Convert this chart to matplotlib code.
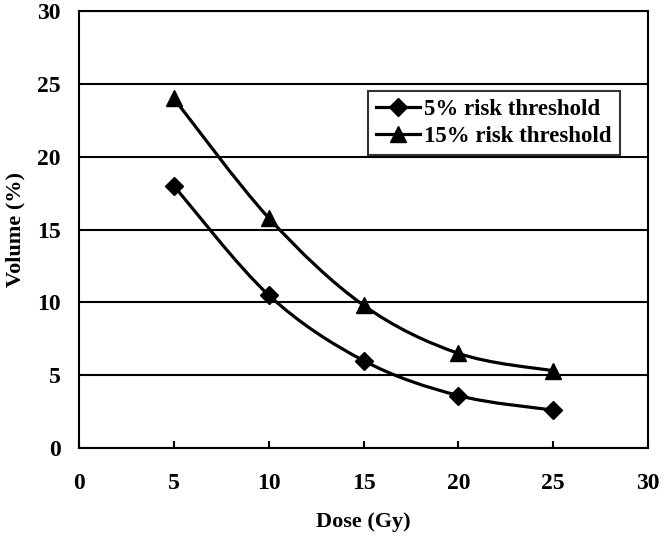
import numpy as np
import matplotlib.pyplot as plt
from matplotlib.path import Path
from matplotlib.patches import PathPatch
from matplotlib.lines import Line2D

plt.rcParams['font.family'] = ['Liberation Serif', 'DejaVu Serif']
plt.rcParams['font.weight'] = 'bold'

dose = [5, 10, 15, 20, 25]
risk5 = [18, 10.5, 6, 3.6, 2.6]
risk15 = [24, 15.8, 9.8, 6.5, 5.3]
labels = ['5% risk threshold', '15% risk threshold']


def smooth_path(x, y):
    # Catmull-Rom as cubic Bezier, like Excel's smoothed line
    pts = np.column_stack([x, y]).astype(float)
    verts = [pts[0]]
    codes = [Path.MOVETO]
    n = len(pts)
    for i in range(n - 1):
        p0 = pts[i - 1] if i > 0 else pts[i]
        p1, p2 = pts[i], pts[i + 1]
        p3 = pts[i + 2] if i + 2 < n else pts[i + 1]
        c1 = p1 + (p2 - p0) / 6
        c2 = p2 - (p3 - p1) / 6
        verts += [c1, c2, p2]
        codes += [Path.CURVE4] * 3
    return Path(verts, codes)


fig = plt.figure(figsize=(6.64, 5.39), dpi=100)
ax = fig.add_axes([79 / 664, 1 - 448 / 539, (648 - 79) / 664, (448 - 11) / 539])

for ys, mk, ms in [(risk5, 'D', 9), (risk15, '^', 12)]:
    ax.add_patch(PathPatch(smooth_path(dose, ys), fill=False, lw=2.3, ec='black'))
    ax.plot(dose, ys, ls='none', marker=mk, ms=ms, color='black')

ax.set_xlim(0, 30)
ax.set_ylim(0, 30)
ax.set_xticks(range(0, 31, 5))
ax.set_yticks(range(0, 31, 5))
ax.yaxis.grid(True, color='black', lw=1.5)
ax.tick_params(axis='x', direction='in', length=5, width=1.5, labelsize=17, pad=18)
ax.tick_params(axis='y', length=0, labelsize=17, pad=13)
for s in ax.spines.values():
    s.set_linewidth(1.5)
ax.set_xlabel('Dose (Gy)', fontsize=16, fontweight='bold', va='center')
ax.set_ylabel('Volume (%)', fontsize=16, fontweight='bold', va='center')
ax.xaxis.set_label_coords(0.5, -(522 - 448) / 437)
ax.yaxis.set_label_coords((15 - 79) / 569, 0.5)

handles = [Line2D([], [], color='black', lw=2.3, marker='D', ms=9),
           Line2D([], [], color='black', lw=2.3, marker='^', ms=12)]
leg = ax.legend(handles, labels, loc='upper left', bbox_to_anchor=(0.508, 0.817),
                borderaxespad=0, fontsize=16.5, frameon=True, fancybox=False,
                edgecolor='black', handlelength=1.9, handletextpad=0.2,
                borderpad=0.35, labelspacing=0.25)
leg.get_frame().set_linewidth(1.5)

fig.savefig('out.png', dpi=100)
